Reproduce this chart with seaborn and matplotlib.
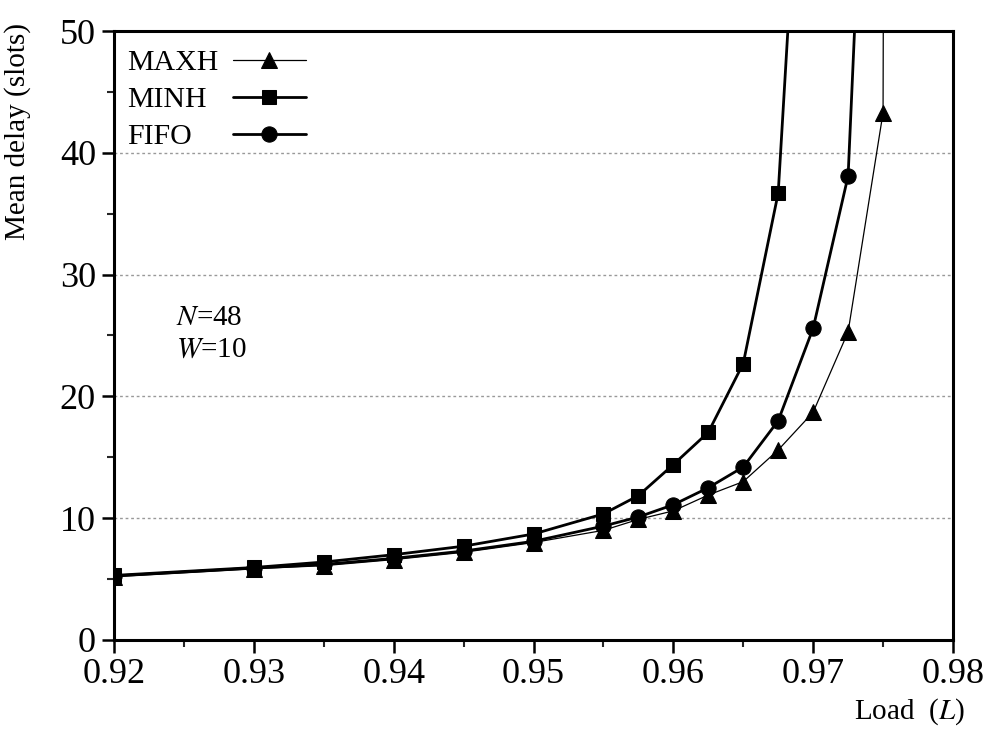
import matplotlib
matplotlib.use("Agg")
import matplotlib.pyplot as plt
import seaborn as sns
import pandas as pd

# Offered load values
load_minh = [0.92, 0.93, 0.935, 0.94, 0.945, 0.95, 0.955, 0.9575, 0.96, 0.9625, 0.965, 0.9675, 0.97]
load_fifo = [0.92, 0.93, 0.935, 0.94, 0.945, 0.95, 0.955, 0.9575, 0.96, 0.9625, 0.965, 0.9675, 0.97, 0.9725, 0.975]
load_maxh = [0.92, 0.93, 0.935, 0.94, 0.945, 0.95, 0.955, 0.9575, 0.96, 0.9625, 0.965, 0.9675, 0.97, 0.9725, 0.975, 0.9775]

# Mean delay in slots for each scheduling policy
delay_minh = [5.3, 5.95, 6.4, 7.0, 7.7, 8.7, 10.35, 11.85, 14.4, 17.05, 22.7, 36.7, 85.0]
delay_fifo = [5.25, 5.9, 6.2, 6.7, 7.3, 8.1, 9.35, 10.1, 11.1, 12.5, 14.2, 18.0, 25.6, 38.1, 103.0]
delay_maxh = [5.2, 5.85, 6.1, 6.6, 7.2, 8.0, 9.0, 9.9, 10.6, 11.9, 13.0, 15.6, 18.7, 25.3, 43.3, 1200.0]

series_names = ["MAXH", "MINH", "FIFO"]
x_ticks = [0.92, 0.93, 0.94, 0.95, 0.96, 0.97, 0.98]
y_ticks = [0, 10, 20, 30, 40, 50]

sns.set_style("ticks")
plt.rcParams["font.family"] = ["Liberation Serif", "DejaVu Serif"]
plt.rcParams["mathtext.fontset"] = "stix"
plt.rcParams["text.color"] = "black"
plt.rcParams["axes.labelcolor"] = "black"

fig = plt.figure(figsize=(9.9, 7.35), dpi=100)
ax = fig.add_axes([0.1152, 0.1293, 0.8474, 0.8285])

df_maxh = pd.DataFrame({"load": load_maxh, "delay": delay_maxh})
df_minh = pd.DataFrame({"load": load_minh, "delay": delay_minh})
df_fifo = pd.DataFrame({"load": load_fifo, "delay": delay_fifo})

sns.lineplot(data=df_maxh, x="load", y="delay", ax=ax, color="black", lw=0.9,
             marker="^", markersize=12, markeredgecolor="black", label=series_names[0], zorder=3)
sns.lineplot(data=df_minh, x="load", y="delay", ax=ax, color="black", lw=2.0,
             marker="s", markersize=10, markeredgecolor="black", label=series_names[1], zorder=4)
sns.lineplot(data=df_fifo, x="load", y="delay", ax=ax, color="black", lw=2.0,
             marker="o", markersize=11, markeredgecolor="black", label=series_names[2], zorder=5)

ax.set_xlim(0.92, 0.98)
ax.set_ylim(0, 50)
ax.set_xticks(x_ticks)
ax.set_xticklabels([f"{v:.2f}" for v in x_ticks])
ax.set_yticks(y_ticks)
ax.set_xticks([v + 0.005 for v in x_ticks[:-1]], minor=True)
ax.set_yticks([v + 5 for v in y_ticks[:-1]], minor=True)
ax.tick_params(axis="both", which="major", direction="out", length=9, width=1.8,
               labelsize=26, pad=4, colors="black")
ax.tick_params(axis="both", which="minor", direction="out", length=5, width=1.5)
ax.set_xlabel("")
ax.set_ylabel("")

for s in ax.spines.values():
    s.set_linewidth(2.2)
    s.set_color("black")
    s.set_visible(True)

# Dotted horizontal reference lines
for yv in [10, 20, 30, 40]:
    ax.axhline(yv, color="#999999", lw=1.0, ls=(0, (2, 2)), zorder=1)

# Legend: left-aligned names, with the line/marker samples in a column to their right
handles, labels = ax.get_legend_handles_labels()
leg_kw = dict(loc="upper left", frameon=False, fontsize=21.5, labelspacing=0.335,
              borderpad=0, borderaxespad=0)
names = ax.legend(handles, labels, handlelength=0, handletextpad=0,
                  bbox_to_anchor=(0.0155, 0.9695), **leg_kw)
for h in names.legend_handles:
    h.set_visible(False)
ax.add_artist(names)
ax.legend(handles, [""] * len(labels), handlelength=2.45, handletextpad=0,
          bbox_to_anchor=(0.1415, 0.9695), **leg_kw)

ax.text(0.9244, 26.4, r"$N$=48", fontsize=21, ha="left", va="center")
ax.text(0.9244, 23.8, r"$W$=10", fontsize=21, ha="left", va="center")

fig.text(18 / 990, 1 - 132 / 735, "Mean delay (slots)", rotation=90, fontsize=21,
         ha="center", va="center")
fig.text(965 / 990, 1 - 712 / 735, r"Load  ($L$)", fontsize=21, ha="right", va="center")

fig.savefig("out.png", dpi=100)
